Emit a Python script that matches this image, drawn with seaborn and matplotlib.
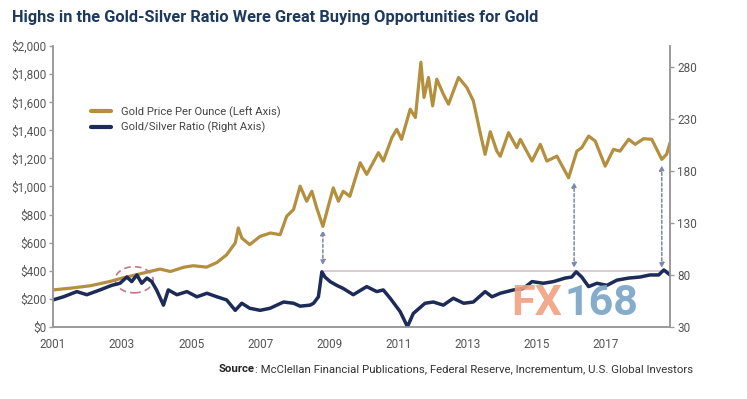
import matplotlib
matplotlib.use("Agg")
import matplotlib.pyplot as plt
from matplotlib.patches import Ellipse
from matplotlib.lines import Line2D
import seaborn as sns
import pandas as pd

# values
gold_years = [2001.0, 2001.5, 2002.07, 2002.65, 2003.0, 2003.4, 2003.8, 2004.1, 2004.4, 2004.8,
              2005.06, 2005.45, 2005.75, 2006.03, 2006.28, 2006.37, 2006.47, 2006.7, 2007.0, 2007.3,
              2007.58, 2007.77, 2007.97, 2008.16, 2008.35, 2008.5, 2008.64, 2008.82, 2009.12, 2009.27,
              2009.41, 2009.6, 2009.9, 2010.09, 2010.43, 2010.57, 2010.82, 2010.96, 2011.1, 2011.35,
              2011.5, 2011.66, 2011.75, 2011.88, 2012.0, 2012.12, 2012.31, 2012.46, 2012.75, 2012.99,
              2013.18, 2013.38, 2013.52, 2013.67, 2013.86, 2013.96, 2014.2, 2014.44, 2014.54, 2014.88,
              2015.12, 2015.31, 2015.6, 2015.94, 2016.18, 2016.32, 2016.52, 2016.71, 2017.0, 2017.24,
              2017.43, 2017.68, 2017.87, 2018.11, 2018.35, 2018.64, 2018.78, 2018.88]
gold_price = [264, 276, 293, 324, 348, 371, 395, 412, 395, 426,
              436, 426, 459, 514, 598, 705, 633, 586, 645, 669,
              657, 788, 836, 1002, 895, 966, 848, 716, 990, 895,
              966, 930, 1169, 1086, 1241, 1181, 1348, 1407, 1336, 1550,
              1491, 1884, 1634, 1776, 1574, 1764, 1657, 1586, 1776, 1705,
              1609, 1380, 1229, 1390, 1252, 1215, 1383, 1276, 1336, 1181,
              1300, 1181, 1216, 1062, 1252, 1276, 1359, 1324, 1145, 1264,
              1252, 1336, 1300, 1340, 1336, 1193, 1229, 1312]

ratio_years = [2001.0, 2001.3, 2001.69, 2001.98, 2002.36, 2002.7, 2002.94, 2003.14, 2003.28, 2003.43,
               2003.57, 2003.72, 2003.86, 2004.0, 2004.2, 2004.34, 2004.59, 2004.88, 2005.17, 2005.46,
               2005.75, 2006.03, 2006.28, 2006.47, 2006.7, 2007.0, 2007.29, 2007.68, 2007.97, 2008.16,
               2008.45, 2008.55, 2008.69, 2008.79, 2008.88, 2009.03, 2009.22, 2009.41, 2009.7, 2010.09,
               2010.38, 2010.57, 2010.77, 2011.06, 2011.27, 2011.44, 2011.78, 2012.02, 2012.31, 2012.6,
               2012.9, 2013.18, 2013.52, 2013.72, 2013.96, 2014.34, 2014.63, 2014.88, 2015.21, 2015.5,
               2015.84, 2016.03, 2016.16, 2016.32, 2016.52, 2016.76, 2017.05, 2017.34, 2017.68, 2018.01,
               2018.3, 2018.55, 2018.7, 2018.88]
ratio_values = [56, 59, 64, 61, 65.6, 70, 72, 78, 73.6, 80,
                72, 77, 73.6, 65.6, 51, 65.6, 61, 64, 59, 62.4,
                59, 56, 46, 52.8, 48, 46, 48, 54, 52.8, 50,
                51, 52.8, 59, 83, 78, 73.6, 70, 67, 61, 68.8,
                64, 65.6, 57.6, 44.7, 30.3, 43, 52.8, 54, 51, 57.6,
                52.8, 54, 64, 59, 62.4, 65.6, 67, 73.6, 72, 73.6,
                77, 78, 83, 78, 68.8, 72, 70, 75, 77, 78,
                80, 80, 84.8, 80]

year_ticks = [2001, 2003, 2005, 2007, 2009, 2011, 2013, 2015, 2017]
usd_ticks = [0, 200, 400, 600, 800, 1000, 1200, 1400, 1600, 1800, 2000]
ratio_ticks = [30, 80, 130, 180, 230, 280]

ratio_high = 83.5
arrow_years = [2008.82, 2016.1, 2018.64]
arrow_top = [690, 1030, 1150]
arrow_bottom = [440, 420, 420]

GOLD = "#b38f3e"
NAVY = "#1c2b57"
GREY = "#555555"

sns.set_theme(style="white")
plt.rcParams["font.family"] = ["Roboto", "DejaVu Sans"]

gold_df = pd.DataFrame({"year": gold_years, "price": gold_price})
ratio_df = pd.DataFrame({"year": ratio_years, "ratio": ratio_values})

fig = plt.figure(figsize=(7.47, 3.99), dpi=100)
ax = fig.add_axes([0.071, 0.1805, 0.826, 0.7042])
ax2 = ax.twinx()

sns.lineplot(data=gold_df, x="year", y="price", ax=ax, color=GOLD, linewidth=2.3)
sns.lineplot(data=ratio_df, x="year", y="ratio", ax=ax2, color=NAVY, linewidth=2.5)

ax.set_xlim(2001, 2018.88)
ax.set_ylim(0, 2000)
ax2.set_ylim(30, 300)
ax.set_xticks(year_ticks)
ax.set_xticklabels([str(y) for y in year_ticks])
ax.set_yticks(usd_ticks)
ax.set_yticklabels(["$" + format(v, ",") for v in usd_ticks])
ax2.set_yticks(ratio_ticks)
ax.set_xlabel("")
ax.set_ylabel("")
ax2.set_ylabel("")

for a in (ax, ax2):
    for side in ("left", "right", "bottom"):
        a.spines[side].set_color("#9a9a9a")
        a.spines[side].set_linewidth(1.2)
    a.spines["top"].set_visible(False)
    a.tick_params(colors="#9a9a9a", labelcolor=GREY, labelsize=8.5, length=3, width=1, direction="out", pad=2)
ax.tick_params(axis="x", pad=5)
ax.grid(False)
ax2.grid(False)

# threshold line at the ratio highs
ax2.hlines(ratio_high, arrow_years[0], 2018.88, color="#cdbfc3", linewidth=1.1, zorder=1)

# dashed arrows linking ratio highs to gold lows
for x, top, bot in zip(arrow_years, arrow_top, arrow_bottom):
    ax.annotate("", xy=(x, top), xytext=(x, bot),
                arrowprops=dict(arrowstyle="<|-|>", color="#7d88aa", linestyle=(0, (2, 1.5)),
                                linewidth=1.1, mutation_scale=7, shrinkA=0, shrinkB=0), zorder=4)

# circle around the 2003 high
ax.add_patch(Ellipse((2003.35, 336), 1.1, 186, fill=False, edgecolor="#c77485",
                     linestyle=(0, (4, 2.5)), linewidth=1.2, zorder=5))

handles = [Line2D([], [], color=GOLD, linewidth=3),
           Line2D([], [], color=NAVY, linewidth=3)]
fig.legend(handles, ["Gold Price Per Ounce (Left Axis)", "Gold/Silver Ratio (Right Axis)"],
           loc="upper left", bbox_to_anchor=(0.114, 0.748), frameon=False, fontsize=8.1,
           handlelength=1.8, handletextpad=0.9, labelspacing=0.35, borderpad=0, labelcolor="#444444")

fig.text(0.016, 0.957, "Highs in the Gold-Silver Ratio Were Great Buying Opportunities for Gold",
         fontsize=11.8, fontweight="bold", color="#1d3a5e", va="center", ha="left")

# watermark
fx = fig.text(0.685, 0.24, "FX", fontsize=31, fontweight="bold", color="#f2a07f", alpha=0.9,
              ha="left", va="center", zorder=10)
fig.canvas.draw()
fx_bb = fx.get_window_extent()
fig.text(fx_bb.x1 / fig.bbox.width + 0.002, 0.24, "168", fontsize=31, fontweight="bold",
         color="#79a3c6", alpha=0.9, ha="left", va="center", zorder=10)

src = fig.text(0.928, 0.075, ": McClellan Financial Publications, Federal Reserve, Incrementum, U.S. Global Investors",
               fontsize=8.2, color="#333333", ha="right", va="center")
fig.canvas.draw()
bb = src.get_window_extent()
fig.text(bb.x0 / fig.bbox.width, 0.075, "Source", fontsize=8.2, fontweight="bold",
         color="#222222", ha="right", va="center")

fig.savefig("out.png", dpi=100, facecolor="white")
